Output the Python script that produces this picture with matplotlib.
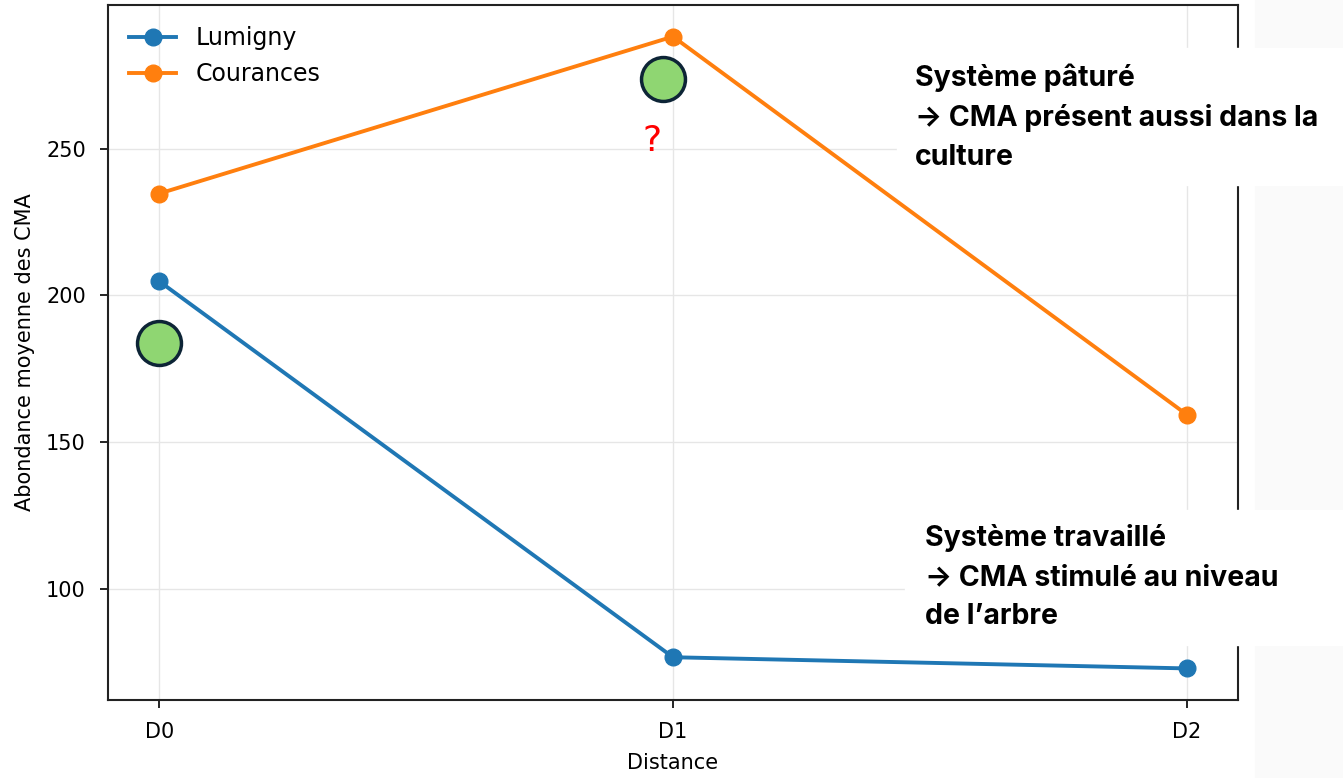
import matplotlib.pyplot as plt
from matplotlib.patches import Rectangle

distances = ['D0', 'D1', 'D2']
lumigny = [204.8, 76.9, 73.1]
courances = [234.7, 288.1, 159.5]

# green highlight points (x position, value)
highlight_x = [0, 0.98]
highlight_y = [183.7, 273.8]

fig = plt.figure(figsize=(13.43, 7.78), dpi=100)
fig.patches.append(Rectangle((1255/1343, 0), 1, 1, transform=fig.transFigure,
                             color='#fafafa', zorder=0))
ax = fig.add_axes([108/1343, 1-700/778, 1130/1343, 695/778])

x = list(range(len(distances)))
ax.plot(x, lumigny, '-o', color='#1f77b4', lw=2.8, ms=12, label='Lumigny')
ax.plot(x, courances, '-o', color='#ff7f0e', lw=2.8, ms=12, label='Courances')
ax.scatter(highlight_x, highlight_y, s=1000, color='#8fd672', edgecolor='#0d2436',
           linewidth=2.5, zorder=5)
ax.text(0.96, 252.5, '?', color='red', fontsize=26, ha='center', va='center')

ax.set_xticks(x)
ax.set_xticklabels(distances)
ax.set_yticks([100, 150, 200, 250])
ax.tick_params(labelsize=15, length=6, width=1.2, pad=10)
ax.set_xlabel('Distance', fontsize=15, labelpad=8)
ax.set_ylabel('Abondance moyenne des CMA', fontsize=15, labelpad=8)
ax.grid(True, color='#e6e6e6', lw=1)
ax.set_axisbelow(True)
for s in ax.spines.values():
    s.set_linewidth(1.5)
    s.set_color('#222222')
ax.legend(loc='upper left', frameon=False, fontsize=17, handlelength=2.0,
          borderaxespad=0.5, labelspacing=0.5)

# white annotation boxes
fig.patches.append(Rectangle((897/1343, 1-185/778), 446/1343, 137/778,
                             transform=fig.transFigure, color='white', zorder=10))
fig.patches.append(Rectangle((905/1343, 1-645/778), 438/1343, 135/778,
                             transform=fig.transFigure, color='white', zorder=10))
fig.text(915/1343, 1-117/778, 'Système pâturé\n\u2192 CMA présent aussi dans la\nculture',
         fontsize=20.5, fontweight='bold', family=['Inter', 'DejaVu Sans'],
         va='center', linespacing=1.55, zorder=11)
fig.text(925/1343, 1-577/778, 'Système travaillé\n\u2192 CMA stimulé au niveau\nde l\u2019arbre',
         fontsize=20.5, fontweight='bold', family=['Inter', 'DejaVu Sans'],
         va='center', linespacing=1.55, zorder=11)

fig.savefig('out.png', dpi=100)
